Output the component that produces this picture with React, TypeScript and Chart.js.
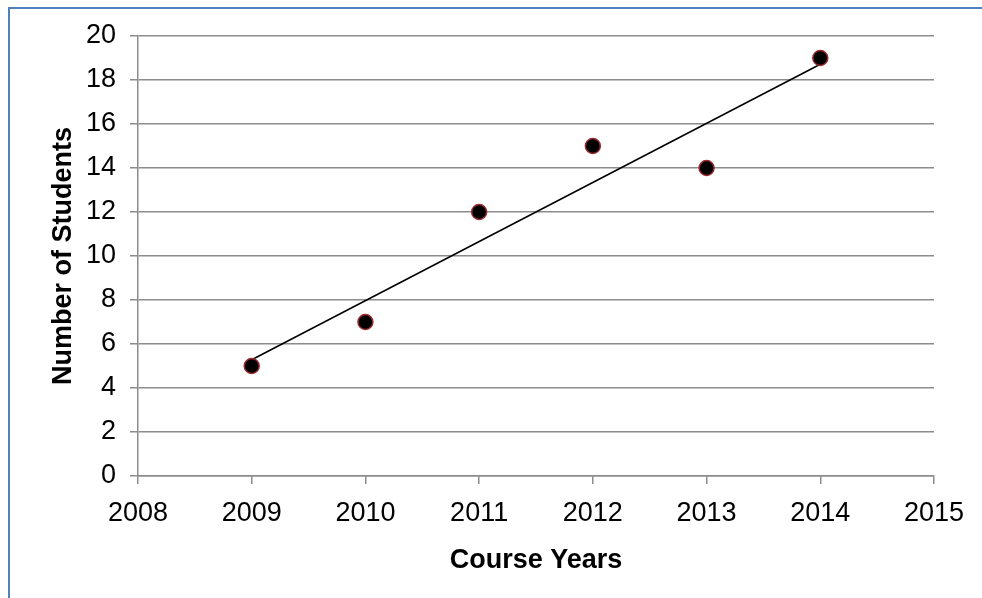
import React, { useEffect, useRef } from "react";
import { Chart, registerables } from "chart.js";

Chart.register(...registerables);

// Course enrolment per year
const years: number[] = [2009, 2010, 2011, 2012, 2013, 2014];
const students: number[] = [5, 7, 12, 15, 14, 19];

const xMin = 2008;
const xMax = 2015;
const yMin = 0;
const yMax = 20;
const yStep = 2;

const FONT = "'Liberation Sans', Arial, Helvetica, sans-serif";
const GRID = "#8c8c8c";

// Least-squares linear trend through the yearly counts
function linearTrend(xs: number[], ys: number[]) {
  const n = xs.length;
  const mx = xs.reduce((a, b) => a + b, 0) / n;
  const my = ys.reduce((a, b) => a + b, 0) / n;
  let sxy = 0;
  let sxx = 0;
  for (let i = 0; i < n; i++) {
    sxy += (xs[i] - mx) * (ys[i] - my);
    sxx += (xs[i] - mx) * (xs[i] - mx);
  }
  const slope = sxy / sxx;
  const intercept = my - slope * mx;
  const x0 = xs[0];
  const x1 = xs[n - 1];
  return [
    { x: x0, y: intercept + slope * x0 },
    { x: x1, y: intercept + slope * x1 },
  ];
}

export default function App() {
  const canvasRef = useRef<HTMLCanvasElement | null>(null);

  useEffect(() => {
    const canvas = canvasRef.current;
    if (!canvas) return;

    const points = years.map((y, i) => ({ x: y, y: students[i] }));
    const trend = linearTrend(years, students);

    const chart = new Chart(canvas, {
      type: "scatter",
      data: {
        datasets: [
          {
            type: "scatter",
            label: "Students",
            data: points,
            backgroundColor: "#000000",
            borderColor: "#9a2b2e",
            borderWidth: 1.5,
            pointRadius: 7.5,
            pointHoverRadius: 7.5,
          },
          {
            type: "line",
            label: "Trend",
            data: trend,
            borderColor: "#000000",
            borderWidth: 1.5,
            pointRadius: 0,
            fill: false,
          },
        ],
      },
      options: {
        animation: false,
        responsive: false,
        devicePixelRatio: 1,
        layout: { padding: { left: 0, right: 48, top: 36, bottom: 0 } },
        plugins: {
          legend: { display: false },
          tooltip: { enabled: false },
        },
        scales: {
          x: {
            type: "linear",
            min: xMin,
            max: xMax,
            afterFit: (scale: any) => {
              scale.height = 122;
            },
            ticks: {
              stepSize: 1,
              padding: 13,
              color: "#000000",
              font: { family: FONT, size: 27 },
              callback: (v: any) => String(v),
            },
            grid: {
              drawOnChartArea: false,
              drawTicks: true,
              tickLength: 8,
              color: GRID,
              lineWidth: 1.5,
            },
            border: { display: true, color: GRID, width: 1.5 },
            title: {
              display: true,
              text: "Course Years",
              color: "#000000",
              font: { family: FONT, size: 27, weight: "bold" },
              padding: { top: 21, bottom: 21 },
            },
          },
          y: {
            min: yMin,
            max: yMax,
            afterFit: (scale: any) => {
              scale.width = 138;
            },
            ticks: {
              stepSize: yStep,
              padding: 14,
              color: "#000000",
              font: { family: FONT, size: 27 },
            },
            grid: {
              drawTicks: true,
              tickLength: 8,
              color: GRID,
              lineWidth: 1.5,
            },
            border: { display: true, color: GRID, width: 1.5 },
            title: {
              display: true,
              text: "Number of Students",
              color: "#000000",
              font: { family: FONT, size: 27, weight: "bold" },
              padding: { top: 47, bottom: 47 },
            },
          },
        },
      },
    });

    return () => chart.destroy();
  }, []);

  return (
    <>
      <canvas
        ref={canvasRef}
        width={982}
        height={598}
        style={{ position: "fixed", left: 0, top: 0, width: 982, height: 598 }}
      />
      <div
        style={{
          position: "fixed",
          left: 8,
          top: 7,
          right: -20,
          bottom: -20,
          border: "2px solid #4f81bd",
          pointerEvents: "none",
        }}
      />
    </>
  );
}
